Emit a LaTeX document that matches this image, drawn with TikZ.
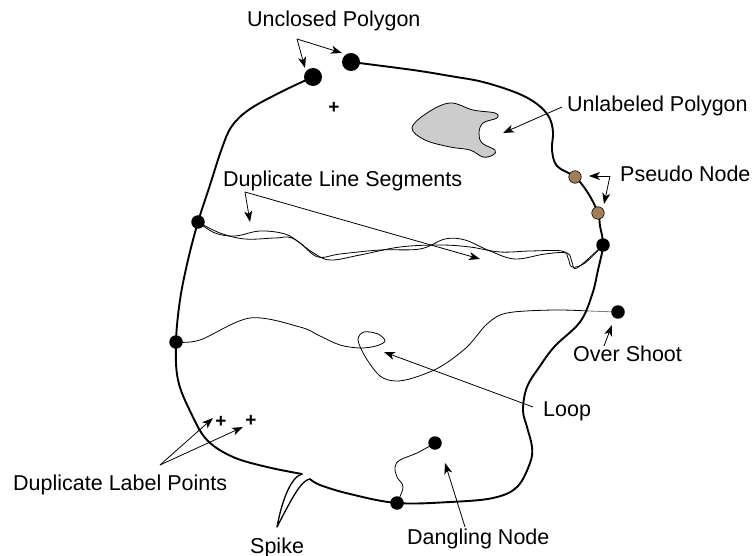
\documentclass[tikz,border=0pt]{standalone}
\usepackage{fontspec}
\setmainfont{Liberation Sans}
\usetikzlibrary{arrows.meta}
\definecolor{pseudo}{HTML}{A07F56}
\definecolor{patch}{HTML}{CCCCCC}
\definecolor{shoot}{HTML}{7A7A7A}
\tikzset{
  boundary/.style={line width=1.9pt,line join=round,line cap=round},
  spikeline/.style={line width=1.3pt,line join=round},
  arc/.style={line width=0.8pt},
  pointer/.style={line width=0.8pt,-{Stealth[length=11pt,width=8pt,inset=3pt]}},
  vertex/.style={circle,fill=black,inner sep=0pt,minimum size=13.5pt},
  bigvertex/.style={vertex,minimum size=18pt},
  pseudovertex/.style={circle,fill=pseudo,draw=black,line width=0.6pt,inner sep=0pt,minimum size=12.5pt},
  tag/.style={anchor=base west,inner sep=0pt,font=\fontsize{21.5}{24}\selectfont},
  labelpt/.style={inner sep=0pt,font=\fontsize{19}{19}\selectfont\bfseries},
}
\newcommand{\plus}[2]{\node[labelpt] (#1) at #2 {+};}

\begin{document}
\begin{tikzpicture}[x=1pt,y=-1pt]
  \useasboundingbox (0,0) rectangle (753,556);
  % vertices of the polygon
  \coordinate (uA) at (313,77);
  \coordinate (uC) at (351,62);
  \coordinate (nL1) at (198,222);
  \coordinate (nL2) at (176,342);
  \coordinate (nB) at (397,503);
  \coordinate (nR) at (603,245);
  \coordinate (nP1) at (575,177);
  \coordinate (nP2) at (598,213);
  \coordinate (dang) at (435,443);
  \coordinate (over) at (618,312);
  \coordinate (cross) at (588,311);
  \coordinate (spkIn) at (302,474);
  \coordinate (spkTip) at (277,527);
  \coordinate (spkOut) at (310,479);
  % boundary
  \draw[boundary] plot[smooth,tension=0.6] coordinates {(uA) (283,91) (250,109) (232,126) (222,148) (210,185) (nL1) (188,260) (180,300) (nL2) (178,380) (191,413) (207,440) (233,457) (267,467) (spkIn)};
  \draw[spikeline] (spkIn) .. controls (291,477) and (282,500) .. (spkTip)
    .. controls (291,500) and (301,480) .. (spkOut);
  \draw[boundary] plot[smooth,tension=0.6] coordinates {(spkOut) (320,485) (350,494) (nB) (450,502) (493,498) (517,487) (530,463) (532,447) (527,427) (523,410) (527,387) (540,366) (555,346) (580,322) (592,295) (598,270) (nR) (600,226) (nP2) (588,193) (nP1) (557,166) (552,150) (553,132) (549,117) (537,104) (517,93) (483,82) (450,76) (413,70) (uC)};
  % unlabeled polygon
  \draw[arc,fill=patch] plot[smooth cycle,tension=0.6] coordinates {(412,128) (427,113) (450,103) (473,110) (495,113) (497,118) (483,123) (479,133) (482,143) (495,150) (493,155) (483,157) (470,150) (450,147) (425,140)};
  % duplicate line segments
  \draw[arc] plot[smooth,tension=0.6] coordinates {(nL1) (215,233) (235,236) (260,231) (285,234) (300,243) (318,257) (340,254) (380,250) (420,249) (445,239) (465,240) (490,251) (515,259) (545,254) (567,253) (572,262) (577,268) (nR)};
  \draw[arc] plot[smooth,tension=0.6] coordinates {(nL1) (220,233) (245,239) (275,238) (292,238) (312,252) (330,260) (360,255) (400,247) (440,245) (470,247) (500,252) (530,251) (562,251) (568,258) (572,267) (585,263) (nR)};
  % loop and over shoot
  \draw[arc] plot[smooth,tension=0.55] coordinates {(nL2) (200,340) (250,318) (300,327) (320,336) (340,345) (360,348) (376,346) (385,341) (378,334) (364,332) (358,340) (366,358) (380,376) (395,381) (413,378) (440,367) (467,347) (487,324) (507,313) (553,310) (cross)};
  \draw[arc,shoot] (cross) -- (over);
  % dangling arc
  \draw[arc] plot[smooth,tension=0.6] coordinates {(nB) (403,487) (397,477) (395,467) (400,460) (417,453) (dang)};
  % nodes
  \node[bigvertex] (uAdot) at (uA) {};
  \node[bigvertex] (uCdot) at (uC) {};
  \foreach \v in {nL1,nL2,nB,nR,dang,over}
    \node[vertex] (\v dot) at (\v) {};
  \node[pseudovertex] (nP1dot) at (nP1) {};
  \node[pseudovertex] (nP2dot) at (nP2) {};
  \plus{lp}{(334,108)}
  \plus{lpA}{(221,422)}
  \plus{lpB}{(251,421)}
  % labels
  \node[tag] (tUnclosed) at (247,27) {Unclosed Polygon};
  \node[tag] (tUnlabeled) at (567,112) {Unlabeled Polygon};
  \node[tag] (tPseudo) at (620,182) {Pseudo Node};
  \node[tag] (tDupLine) at (223,187) {Duplicate Line Segments};
  \node[tag] (tOver) at (573,361) {Over Shoot};
  \node[tag] (tLoop) at (543,416) {Loop};
  \node[tag] (tDupLabel) at (13,490) {Duplicate Label Points};
  \node[tag] (tSpike) at (250,553) {Spike};
  \node[tag] (tDangling) at (407,544) {Dangling Node};
  % pointers
  \coordinate (uvtx) at (297,39);
  \coordinate (pvtx) at (610,176);
  \coordinate (dvtx) at (245,192);
  \coordinate (lvtx) at (160,465);
  \coordinate (unlStart) at (562,107);
  \coordinate (ovStart) at (604,346);
  \coordinate (loopStart) at (533,407);
  \coordinate (dangStart) at (465,527);
  \coordinate (uTipA) at (305,68);
  \coordinate (uTipC) at (342,53);
  \coordinate (unlTip) at (503,133);
  \coordinate (pTipA) at (589,176);
  \coordinate (pTipB) at (604,204);
  \coordinate (dTipA) at (250,222);
  \coordinate (dTipB) at (480,259);
  \coordinate (ovTip) at (612,325);
  \coordinate (loopTip) at (384,352);
  \coordinate (lTipA) at (213,418);
  \coordinate (lTipB) at (243,427);
  \coordinate (dangTip) at (445,463);
  \draw[pointer] (uvtx) -- (uTipA);
  \draw[pointer] (uvtx) -- (uTipC);
  \draw[pointer] (unlStart) -- (unlTip);
  \draw[pointer] (pvtx) -- (pTipA);
  \draw[pointer] (pvtx) -- (pTipB);
  \draw[pointer] (dvtx) -- (dTipA);
  \draw[pointer] (dvtx) -- (dTipB);
  \draw[pointer] (ovStart) -- (ovTip);
  \draw[pointer] (loopStart) -- (loopTip);
  \draw[pointer] (lvtx) -- (lTipA);
  \draw[pointer] (lvtx) -- (lTipB);
  \draw[pointer] (dangStart) -- (dangTip);
\end{tikzpicture}
\end{document}
